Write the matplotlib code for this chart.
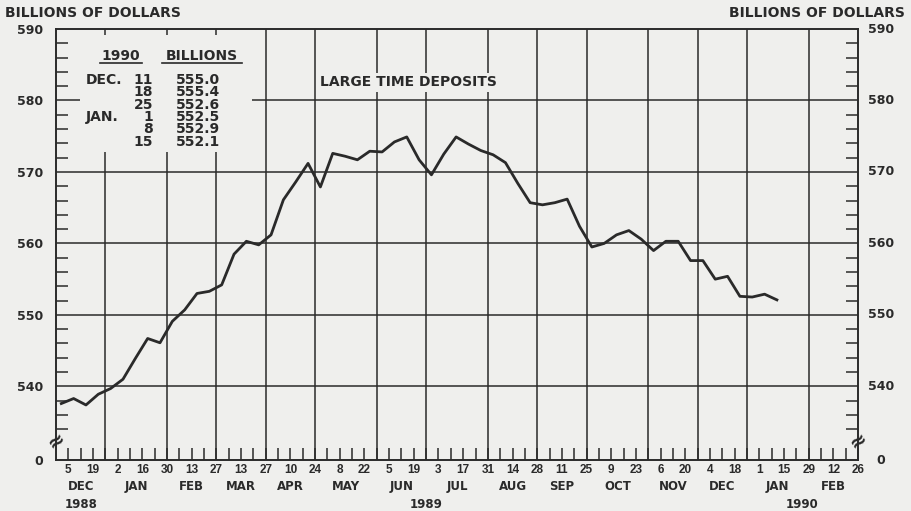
import matplotlib
matplotlib.use('Agg')
import matplotlib.pyplot as plt
import matplotlib.dates as mdates
from matplotlib.patches import Rectangle
from matplotlib.lines import Line2D
import pandas as pd

# weekly large time deposits, billions of dollars (weeks ending Monday)
deposits = [537.6, 538.3, 537.4, 538.9, 539.7, 541.0, 543.9, 546.7, 546.1, 549.1,
            550.7, 553.0, 553.3, 554.2, 558.5, 560.3, 559.8, 561.2, 566.1, 568.6,
            571.2, 567.9, 572.6, 572.2, 571.7, 572.9, 572.8, 574.2, 574.9, 571.7,
            569.6, 572.5, 574.9, 573.9, 573.0, 572.4, 571.3, 568.4, 565.7, 565.4,
            565.7, 566.2, 562.4, 559.5, 560.0, 561.2, 561.8, 560.6, 559.0, 560.3,
            560.3, 557.6, 557.6, 555.0, 555.4, 552.6, 552.5, 552.9, 552.1]
week_ending = pd.date_range('1988-12-05', periods=len(deposits), freq='7D')

month_names = ['DEC', 'JAN', 'FEB', 'MAR', 'APR', 'MAY', 'JUN', 'JUL', 'AUG',
               'SEP', 'OCT', 'NOV', 'DEC', 'JAN', 'FEB']
years = ['1988', '1989', '1990']
y_labels = ['540', '550', '560', '570', '580', '590']

table_months = ['DEC.', '', '', 'JAN.', '', '']
table_days = ['11', '18', '25', '1', '8', '15']
table_values = deposits[-6:]

W, H = 911, 511
BG = '#efefed'
INK = '#2a2a2a'
BOLD = dict(fontweight='bold', color=INK)


def fx(x):
    return x / W


def fy(y):
    return 1 - y / H


fig = plt.figure(figsize=(W / 100, H / 100), dpi=100, facecolor=BG)
ax = fig.add_axes([fx(56), fy(460), 802 / W, 431 / H], facecolor=BG)

y_floor = 529.7
ax.set_ylim(y_floor, 590)
start = pd.Timestamp('1988-11-28')
end = pd.Timestamp('1990-02-26')
ax.set_xlim(mdates.date2num(start), mdates.date2num(end))

mondays = pd.date_range('1988-12-05', end, freq='7D')
month_ends = [d for d in mondays if (d + pd.Timedelta(days=7)).month != d.month]
bounds = [start] + month_ends

# grid
for v in [540, 550, 560, 570, 580]:
    ax.axhline(v, color=INK, lw=1.1, zorder=1)
for d in month_ends[:-1]:
    ax.axvline(mdates.date2num(d), color=INK, lw=1.1, zorder=1)

# blank areas behind the inset text
ax.add_patch(Rectangle((0.030, 0.715), 0.2145, 0.2715, transform=ax.transAxes,
                       facecolor=BG, edgecolor='none', zorder=2))
ax.add_patch(Rectangle((0.324, 0.854), 0.2244, 0.044, transform=ax.transAxes,
                       facecolor=BG, edgecolor='none', zorder=2))

# data, plotted at mid-week
x = mdates.date2num(week_ending - pd.Timedelta(days=4))
ax.plot(x, deposits, color=INK, lw=2.0, zorder=3)

# x ticks
tick_labels = [str(d.day) if i % 2 == 0 else '' for i, d in enumerate(mondays)]
ax.set_xticks(mdates.date2num(mondays))
ax.set_xticklabels(tick_labels, fontfamily='Liberation Sans', fontsize=8.5, **BOLD)
ax.tick_params(axis='x', direction='in', length=8.6, width=1.1, color=INK, pad=3)

# y ticks
ax.set_yticks([y_floor] + [int(v) for v in y_labels])
ax.set_yticklabels(['0'] + y_labels, fontsize=9, **BOLD)
ax.set_yticks([v for v in range(534, 590, 2) if v % 10], minor=True)
ax.tick_params(axis='y', which='major', length=0, pad=9.4)
ax.tick_params(axis='y', which='minor', direction='in', length=8.6, width=1.1,
               color=INK, left=True, right=True)
ytr = ax.get_yaxis_transform()
for v, lab in zip([y_floor] + [int(v) for v in y_labels], ['0'] + y_labels):
    ax.text(1.0287, v, lab, transform=ytr, ha='center', va='center', fontsize=9, **BOLD)

for s in ax.spines.values():
    s.set_color(INK)
    s.set_linewidth(1.4)

# month and year labels
xtr = ax.get_xaxis_transform()
bnum = mdates.date2num(bounds)
for i, name in enumerate(month_names):
    ax.text((bnum[i] + bnum[i + 1]) / 2, -0.062, name, transform=xtr,
            ha='center', va='center', fontsize=8.5, **BOLD)
year_spans = [(0, 1), (1, 13), (13, 15)]
for (a, b), yr in zip(year_spans, years):
    ax.text((bnum[a] + bnum[b]) / 2, -0.104, yr, transform=xtr,
            ha='center', va='center', fontsize=8.5, **BOLD)

# axis break marks
for bx in [57, 859]:
    fig.text(fx(bx), fy(441), '\u2248', rotation=35, ha='center', va='center',
             fontsize=15, **BOLD)

# titles
fig.text(fx(5), fy(13), 'BILLIONS OF DOLLARS', ha='left', va='center', fontsize=10, **BOLD)
fig.text(fx(905), fy(13), 'BILLIONS OF DOLLARS', ha='right', va='center', fontsize=10, **BOLD)
fig.text(fx(320), fy(82), 'LARGE TIME DEPOSITS', ha='left', va='center', fontsize=10, **BOLD)

# inset table
fig.text(fx(121), fy(56), '1990', ha='center', va='center', fontsize=10, **BOLD)
fig.text(fx(202), fy(56), 'BILLIONS', ha='center', va='center', fontsize=10, **BOLD)
fig.add_artist(Line2D([fx(100), fx(142)], [fy(63), fy(63)], color=INK, lw=1.2))
fig.add_artist(Line2D([fx(162), fx(242)], [fy(63), fy(63)], color=INK, lw=1.2))
for i, (m, d, v) in enumerate(zip(table_months, table_days, table_values)):
    yy = 80 + i * 12.3
    if m:
        fig.text(fx(86), fy(yy), m, ha='left', va='center', fontsize=10, **BOLD)
    fig.text(fx(153), fy(yy), d, ha='right', va='center', fontsize=10, **BOLD)
    fig.text(fx(176), fy(yy), f'{v:.1f}', ha='left', va='center', fontsize=10, **BOLD)

fig.savefig('out.png', dpi=100, facecolor=BG)
